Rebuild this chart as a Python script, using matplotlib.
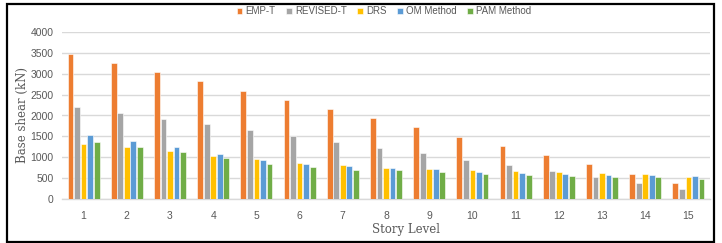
import matplotlib
matplotlib.use("Agg")
import matplotlib.pyplot as plt
from matplotlib.patches import Rectangle
import numpy as np

stories = [str(i) for i in range(1, 16)]
series_names = ["EMP-T", "REVISED-T", "DRS", "OM Method", "PAM Method"]
emp_t = [3480, 3250, 3045, 2830, 2580, 2375, 2150, 1950, 1725, 1490, 1275, 1050, 825, 600, 375]
revised_t = [2200, 2065, 1920, 1790, 1645, 1500, 1355, 1225, 1090, 930, 810, 665, 520, 375, 230]
drs = [1315, 1250, 1145, 1025, 945, 865, 800, 740, 720, 680, 655, 640, 615, 600, 520]
om = [1520, 1380, 1235, 1075, 930, 845, 780, 740, 720, 640, 615, 585, 575, 575, 545]
pam = [1355, 1235, 1115, 970, 845, 760, 700, 680, 645, 600, 560, 545, 520, 520, 480]
colors = ["#ED7D31", "#A5A5A5", "#FFC000", "#5B9BD5", "#70AD47"]
yticks = [0, 500, 1000, 1500, 2000, 2500, 3000, 3500, 4000]

fig = plt.figure(figsize=(7.22, 2.43), dpi=100)
ax = fig.add_axes([62/722, 1-198.7/243, 648/722, (198.7-32.3)/243])

x = np.arange(len(stories))
slot = 0.152
data = [emp_t, revised_t, drs, om, pam]
for i, (name, vals, c) in enumerate(zip(series_names, data, colors)):
    ax.bar(x + (i - 2) * slot, vals, width=slot*0.88, color=c, label=name,
           edgecolor="white", linewidth=0.4, zorder=3)

ax.set_xlim(-0.5, len(stories) - 0.5)
ax.set_ylim(0, 4000)
ax.set_yticks(yticks)
ax.set_xticks(x)
ax.set_xticklabels(stories)
ax.grid(axis="y", color="#D9D9D9", linewidth=1, zorder=0)
for s in ["top", "right", "left"]:
    ax.spines[s].set_visible(False)
ax.spines["bottom"].set_color("#D9D9D9")
ax.spines["bottom"].set_linewidth(1)
ax.tick_params(length=0, labelsize=7.5, labelcolor="#595959", pad=6)
ax.tick_params(axis="x", pad=9)
for lab in ax.get_xticklabels() + ax.get_yticklabels():
    lab.set_family("Liberation Sans")

fig.text(22/722, 1-115/243, "Base shear (kN)", rotation=90, ha="center", va="center",
         fontsize=8.5, color="#595959", family="DejaVu Serif")
fig.text(406/722, 1-229/243, "Story Level", ha="center", va="center",
         fontsize=8.5, color="#595959", family="DejaVu Serif")

leg = fig.legend(loc="center", bbox_to_anchor=(384/722, 1-11.5/243), ncol=5, frameon=False,
                 handlelength=0.55, handleheight=0.55, handletextpad=0.35,
                 columnspacing=1.1, prop={"family": "Liberation Sans", "size": 7})
for t in leg.get_texts():
    t.set_color("#595959")

fig.patches.append(Rectangle((7/722, 1.5/243), 707/722, 237/243, transform=fig.transFigure,
                             fill=False, edgecolor="black", linewidth=1.6))

fig.savefig("out.png", dpi=100)
